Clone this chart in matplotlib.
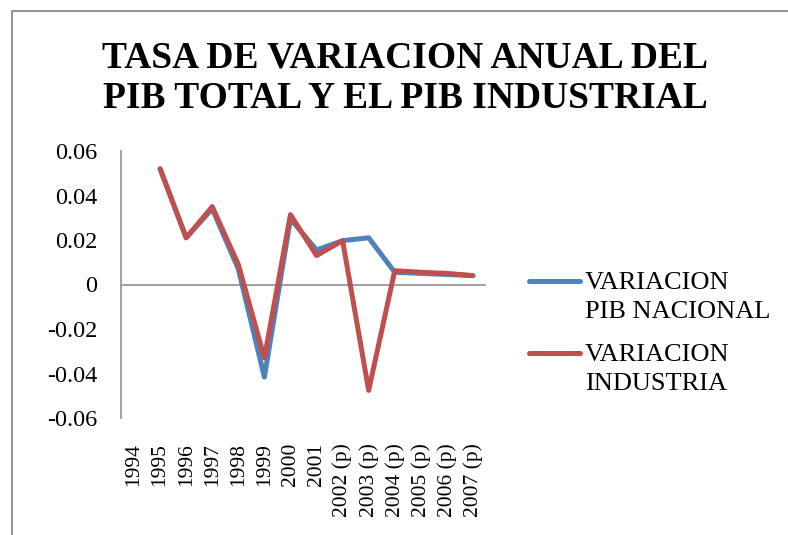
import numpy as np
import matplotlib
matplotlib.use("Agg")
import matplotlib.pyplot as plt
from matplotlib.patches import Rectangle
from matplotlib.lines import Line2D

# datos
anios = ['1994', '1995', '1996', '1997', '1998', '1999', '2000', '2001',
         '2002 (p)', '2003 (p)', '2004 (p)', '2005 (p)', '2006 (p)', '2007 (p)']
pib_nacional = [np.nan, 0.052, 0.021, 0.034, 0.007, -0.0416, 0.0295, 0.0155,
                0.0197, 0.021, 0.0055, 0.005, 0.0045, 0.004]
pib_industria = [np.nan, 0.052, 0.021, 0.035, 0.009, -0.033, 0.0314, 0.013,
                 0.0197, -0.0476, 0.0062, 0.0055, 0.005, 0.004]
yticks = [0.06, 0.04, 0.02, 0, -0.02, -0.04, -0.06]
ytick_labels = ['0.06', '0.04', '0.02', '0', '-0.02', '-0.04', '-0.06']
series = ['VARIACION\nPIB NACIONAL', 'VARIACION\nINDUSTRIA']
colores = ['#4F81BD', '#C0504D']

plt.rcParams['font.family'] = ['Liberation Serif', 'DejaVu Serif']

fig = plt.figure(figsize=(7.88, 5.35), dpi=100)
ax = fig.add_axes([121/788, 1-418/535, (486-121)/788, (418-151)/535])

x = np.arange(len(anios))
for datos, c in zip([pib_nacional, pib_industria], colores):
    ax.plot(x, datos, color=c, lw=3.6, solid_joinstyle='round',
            solid_capstyle='round')

ax.axhline(0, color='#999999', lw=1.3, zorder=0)
ax.set_xlim(-0.5, len(anios)-0.5)
ax.set_ylim(-0.06, 0.06)
ax.set_yticks(yticks)
ax.set_yticklabels(ytick_labels, fontsize=17.5)
ax.set_xticks(x)
ax.set_xticklabels(anios, fontsize=15.5)
ax.tick_params(length=0)
ax.tick_params(axis='y', pad=17)
ax.tick_params(axis='x', pad=18, labelrotation=90)

for s in ['top', 'right', 'bottom']:
    ax.spines[s].set_visible(False)
ax.spines['left'].set_color('#999999')
ax.spines['left'].set_linewidth(1.3)

# leyenda a mano (el simbolo va alineado con la primera linea del texto)
leg_y = [281, 353]
for lab, c, yy in zip(series, colores, leg_y):
    fig.add_artist(Line2D([529/788, 580/788], [1-yy/535, 1-yy/535],
                          color=c, lw=3.6, solid_capstyle='round'))
    fig.text(585/788, 1-(yy-9)/535, lab, ha='left', va='top',
             fontsize=19, linespacing=1.42)

fig.text(405/788, 1-78/535, 'TASA DE VARIACION ANUAL DEL\nPIB TOTAL Y EL PIB INDUSTRIAL',
         ha='center', va='center', fontsize=27, fontweight='bold',
         linespacing=1.2)

# borde del area del grafico
fig.patches.append(Rectangle((12/788, -0.1), 1.2, 1.1-11/535,
                             transform=fig.transFigure, fill=False,
                             edgecolor='#888888', lw=1.3))

fig.savefig('out.png', dpi=100)
